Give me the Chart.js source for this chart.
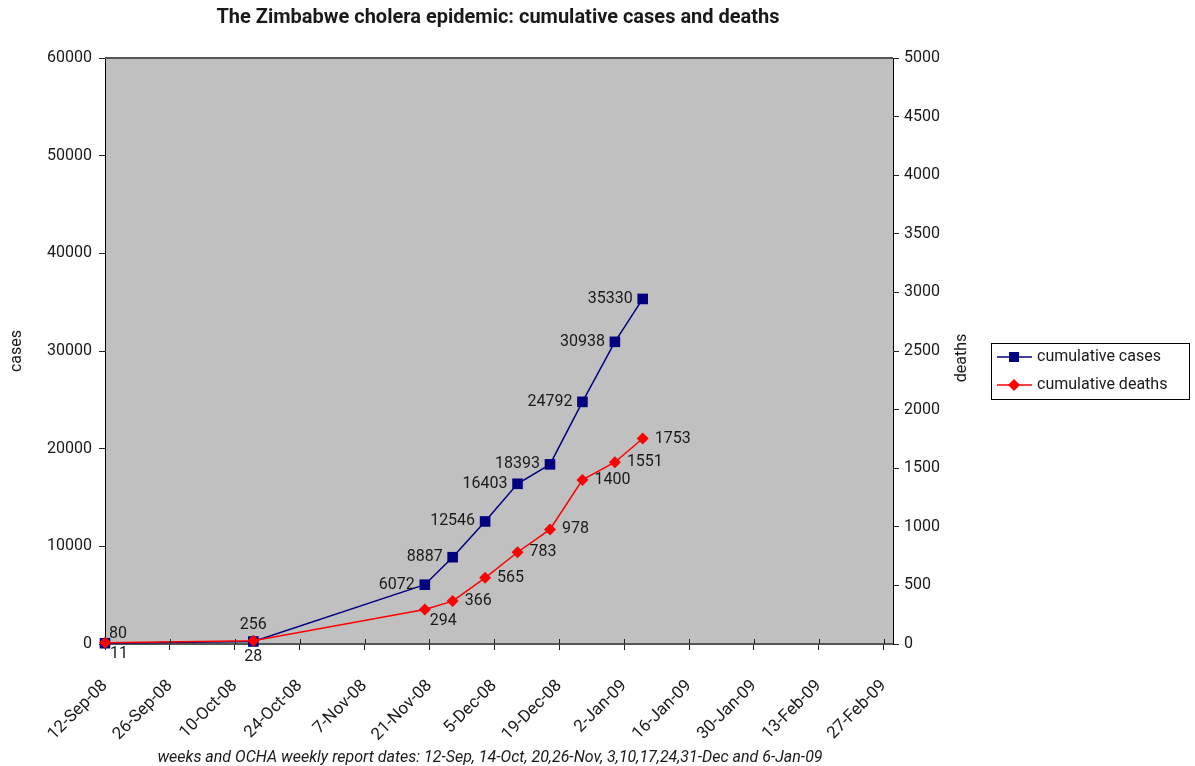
<!DOCTYPE html>
<html>
<head>
<meta charset="utf-8">
<script src="https://cdn.jsdelivr.net/npm/chart.js@4.4.1/dist/chart.umd.min.js"></script>
<style>
  html, body { margin: 0; padding: 0; background: #fff; }
  canvas { display: block; }
</style>
</head>
<body>
<canvas id="chart" width="1195" height="766"></canvas>
<script>
const reportDates = ['2008-09-12', '2008-10-14', '2008-11-20', '2008-11-26', '2008-12-03', '2008-12-10', '2008-12-17', '2008-12-24', '2008-12-31', '2009-01-06'];
const cases = [80, 256, 6072, 8887, 12546, 16403, 18393, 24792, 30938, 35330];
const deaths = [11, 28, 294, 366, 565, 783, 978, 1400, 1551, 1753];

// where each value label sits relative to its point
const casesLabelPos = ['aboveRight', 'above', 'left', 'left', 'left', 'left', 'left', 'left', 'left', 'left'];
const deathsLabelPos = ['belowRight', 'below', 'belowRight', 'right', 'right', 'right', 'right', 'right', 'right', 'right'];

const months = ['Jan', 'Feb', 'Mar', 'Apr', 'May', 'Jun', 'Jul', 'Aug', 'Sep', 'Oct', 'Nov', 'Dec'];
const dayMs = 86400000;
const start = Date.UTC(2008, 8, 12);

const toDay = (s) => {
  const [y, m, d] = s.split('-').map(Number);
  return Math.round((Date.UTC(y, m - 1, d) - start) / dayMs);
};

const dayLabel = (v) => {
  const d = new Date(start + v * dayMs);
  return `${d.getUTCDate()}-${months[d.getUTCMonth()]}-${String(d.getUTCFullYear()).slice(2)}`;
};

const days = reportDates.map(toDay);

const font = 'Roboto, "Open Sans", sans-serif';
const textColor = '#1a1a1a';

Chart.defaults.font.family = font;
Chart.defaults.font.size = 16;
Chart.defaults.color = textColor;

const offsets = {
  left: { dx: -10, dy: 0, align: 'right' },
  right: { dx: 12, dy: 0, align: 'left' },
  above: { dx: 0, dy: -16, align: 'center' },
  below: { dx: 0, dy: 16, align: 'center' },
  aboveRight: { dx: 4, dy: -9, align: 'left' },
  belowRight: { dx: 5, dy: 11, align: 'left' },
};

const decor = {
  id: 'decor',
  beforeDraw(chart) {
    const { ctx, chartArea: a } = chart;
    ctx.save();
    ctx.fillStyle = '#c0c0c0';
    ctx.fillRect(a.left, a.top, a.right - a.left, a.bottom - a.top);
    ctx.restore();
  },
  afterDraw(chart) {
    const { ctx, chartArea: a } = chart;
    ctx.save();
    // top edge of plot
    ctx.strokeStyle = '#555';
    ctx.lineWidth = 2;
    ctx.beginPath();
    ctx.moveTo(a.left, a.top);
    ctx.lineTo(a.right, a.top);
    ctx.stroke();

    // inner half of x tick marks
    const xs = chart.scales.x;
    ctx.strokeStyle = '#222';
    ctx.lineWidth = 1;
    xs.ticks.forEach((t) => {
      const px = Math.round(xs.getPixelForValue(t.value)) + 0.5;
      ctx.beginPath();
      ctx.moveTo(px, a.bottom);
      ctx.lineTo(px, a.bottom - 5);
      ctx.stroke();
    });

    // title
    ctx.fillStyle = textColor;
    ctx.textAlign = 'center';
    ctx.textBaseline = 'middle';
    ctx.font = `bold 20px ${font}`;
    ctx.fillText('The Zimbabwe cholera epidemic: cumulative cases and deaths', 498, 18);

    // x axis note
    ctx.font = `italic 16px ${font}`;
    ctx.fillText('weeks and OCHA weekly report dates: 12-Sep, 14-Oct, 20,26-Nov, 3,10,17,24,31-Dec and 6-Jan-09', 490, 758);

    // right axis title
    ctx.font = `16px ${font}`;
    ctx.translate(962, 358);
    ctx.rotate(-Math.PI / 2);
    ctx.fillText('deaths', 0, 0);
    ctx.setTransform(1, 0, 0, 1, 0, 0);
    ctx.restore();

    // legend
    ctx.save();
    ctx.fillStyle = '#fff';
    ctx.fillRect(991, 343, 198, 56);
    ctx.strokeStyle = '#000';
    ctx.lineWidth = 1;
    ctx.strokeRect(991.5, 343.5, 198, 56);
    const items = [
      { text: 'cumulative cases', color: '#000080', shape: 'square', y: 357 },
      { text: 'cumulative deaths', color: '#ff0000', shape: 'diamond', y: 385 },
    ];
    items.forEach((it) => {
      ctx.strokeStyle = it.color;
      ctx.lineWidth = 1.5;
      ctx.beginPath();
      ctx.moveTo(997, it.y);
      ctx.lineTo(1032, it.y);
      ctx.stroke();
      ctx.fillStyle = it.color;
      if (it.shape === 'square') {
        ctx.fillRect(1009, it.y - 5, 10, 10);
      } else {
        ctx.beginPath();
        ctx.moveTo(1014, it.y - 6);
        ctx.lineTo(1020, it.y);
        ctx.lineTo(1014, it.y + 6);
        ctx.lineTo(1008, it.y);
        ctx.closePath();
        ctx.fill();
      }
      ctx.fillStyle = textColor;
      ctx.font = `16px ${font}`;
      ctx.textAlign = 'left';
      ctx.textBaseline = 'middle';
      ctx.fillText(it.text, 1037, it.y);
    });
    ctx.restore();
  },
  afterDatasetsDraw(chart) {
    const { ctx } = chart;
    const placements = [casesLabelPos, deathsLabelPos];
    ctx.save();
    ctx.font = `16px ${font}`;
    ctx.fillStyle = textColor;
    ctx.textBaseline = 'middle';
    chart.data.datasets.forEach((ds, i) => {
      const meta = chart.getDatasetMeta(i);
      meta.data.forEach((pt, j) => {
        const o = offsets[placements[i][j]];
        ctx.textAlign = o.align;
        ctx.fillText(String(ds.data[j].y), pt.x + o.dx, pt.y + o.dy);
      });
    });
    ctx.restore();
  },
};

new Chart(document.getElementById('chart'), {
  type: 'line',
  data: {
    datasets: [
      {
        label: 'cumulative cases',
        data: days.map((d, i) => ({ x: d, y: cases[i] })),
        yAxisID: 'y',
        borderColor: '#000080',
        backgroundColor: '#000080',
        borderWidth: 1.5,
        pointStyle: 'rect',
        pointRadius: 7.5,
        pointBorderWidth: 0,
        clip: false,
        order: 1,
      },
      {
        label: 'cumulative deaths',
        data: days.map((d, i) => ({ x: d, y: deaths[i] })),
        yAxisID: 'y1',
        borderColor: '#ff0000',
        backgroundColor: '#ff0000',
        borderWidth: 1.5,
        pointStyle: 'rectRot',
        pointRadius: 6,
        pointBorderWidth: 0,
        clip: false,
        order: 0,
      },
    ],
  },
  options: {
    responsive: false,
    animation: false,
    layout: { padding: { top: 58, right: 220, bottom: 0, left: 0 } },
    plugins: {
      legend: { display: false },
      tooltip: { enabled: false },
    },
    scales: {
      x: {
        type: 'linear',
        min: 0,
        max: 170,
        afterFit: (s) => { s.height = 122; },
        grid: { drawOnChartArea: false, tickLength: 6, color: '#222' },
        border: { color: '#555', width: 2 },
        ticks: {
          stepSize: 14,
          includeBounds: false,
          autoSkip: false,
          minRotation: 45,
          maxRotation: 45,
          padding: 26,
          font: { size: 17 },
          callback: (v) => dayLabel(v),
        },
      },
      y: {
        position: 'left',
        min: 0,
        max: 60000,
        afterFit: (s) => { s.width = 105; },
        grid: { drawOnChartArea: false, tickLength: 6, color: '#222' },
        border: { color: '#000', width: 1 },
        ticks: { stepSize: 10000, padding: 7, callback: (v) => String(v) },
        title: { display: true, text: 'cases', padding: { top: 7, bottom: 0 } },
      },
      y1: {
        position: 'right',
        min: 0,
        max: 5000,
        afterFit: (s) => { s.width = 82; },
        grid: { drawOnChartArea: false, tickLength: 6, color: '#222' },
        border: { color: '#000', width: 1 },
        ticks: { stepSize: 500, padding: 5, callback: (v) => String(v) },
      },
    },
  },
  plugins: [decor],
});
</script>
</body>
</html>
